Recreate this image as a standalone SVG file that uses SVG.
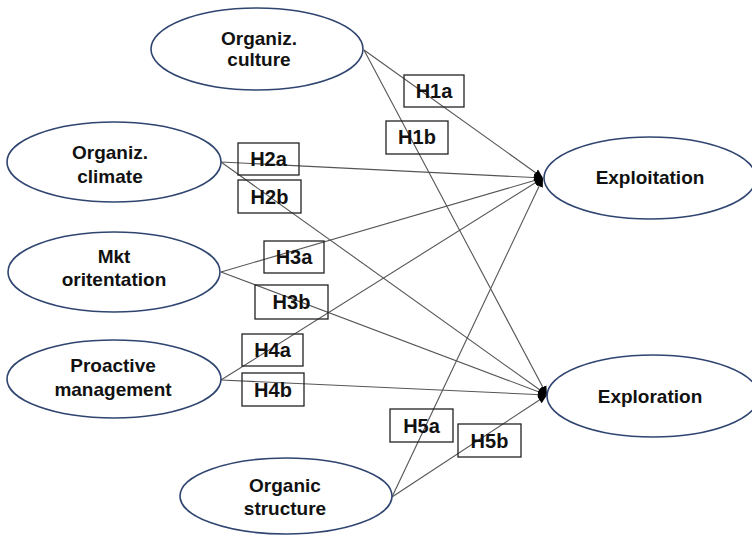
<svg xmlns="http://www.w3.org/2000/svg" width="752" height="536" viewBox="0 0 752 536">
<style>
.node ellipse{fill:#fff;stroke:#2f4570;stroke-width:1.6}
.node text{font-family:"Liberation Sans",Arial,sans-serif;font-weight:bold;font-size:19px;fill:#111;text-anchor:middle}
.conn line{stroke:#555;stroke-width:1.1}
.lbl rect{fill:none;stroke:#222;stroke-width:1.3}
.lbl text{font-family:"Liberation Sans",Arial,sans-serif;font-weight:bold;font-size:20px;fill:#111;text-anchor:middle}
</style>
<defs>
<marker id="arr" markerWidth="10" markerHeight="10" refX="9" refY="5" orient="auto" markerUnits="userSpaceOnUse">
<path d="M0,1 L9,5 L0,9 Z" fill="#000"/>
</marker>
</defs>
<rect width="752" height="536" fill="#fff"/>
<g id="connectors" class="conn">
<line x1="364" y1="50" x2="543" y2="178" marker-end="url(#arr)"/>
<line x1="364" y1="50" x2="547" y2="395" marker-end="url(#arr)"/>
<line x1="221" y1="162" x2="543" y2="178" marker-end="url(#arr)"/>
<line x1="221" y1="162" x2="547" y2="395" marker-end="url(#arr)"/>
<line x1="221" y1="272" x2="543" y2="178" marker-end="url(#arr)"/>
<line x1="221" y1="272" x2="547" y2="395" marker-end="url(#arr)"/>
<line x1="221" y1="380" x2="543" y2="178" marker-end="url(#arr)"/>
<line x1="221" y1="380" x2="547" y2="395" marker-end="url(#arr)"/>
<line x1="392" y1="497" x2="543" y2="178" marker-end="url(#arr)"/>
<line x1="392" y1="497" x2="547" y2="395" marker-end="url(#arr)"/>
</g>
<g id="labels" class="lbl">
<g id="H1a"><rect x="404" y="75" width="60" height="32"/><text x="434" y="98">H1a</text></g>
<g id="H1b"><rect x="386" y="121" width="62" height="33"/><text x="417" y="144">H1b</text></g>
<g id="H2a"><rect x="238" y="143" width="61" height="32"/><text x="268.5" y="166">H2a</text></g>
<g id="H2b"><rect x="238" y="180" width="63" height="33"/><text x="269.5" y="204">H2b</text></g>
<g id="H3a"><rect x="264" y="241" width="60" height="32"/><text x="294" y="264">H3a</text></g>
<g id="H3b"><rect x="255" y="285" width="73" height="34"/><text x="291.5" y="309">H3b</text></g>
<g id="H4a"><rect x="242" y="334" width="61" height="32"/><text x="272.5" y="357">H4a</text></g>
<g id="H4b"><rect x="242" y="373" width="62" height="33"/><text x="273" y="397">H4b</text></g>
<g id="H5a"><rect x="390" y="409" width="63" height="33"/><text x="421.5" y="433">H5a</text></g>
<g id="H5b"><rect x="458" y="424" width="63" height="33"/><text x="489.5" y="448">H5b</text></g>
</g>
<g id="culture" class="node"><ellipse cx="257" cy="49" rx="106" ry="41"/><text x="259" y="45">Organiz.</text><text x="259" y="66">culture</text></g>
<g id="climate" class="node"><ellipse cx="114" cy="162" rx="107" ry="40"/><text x="110" y="159">Organiz.</text><text x="110" y="183">climate</text></g>
<g id="mkt" class="node"><ellipse cx="114" cy="272" rx="106" ry="40"/><text x="114" y="263">Mkt</text><text x="114" y="286">oritentation</text></g>
<g id="proactive" class="node"><ellipse cx="114" cy="379" rx="107" ry="39"/><text x="113" y="372">Proactive</text><text x="113" y="396">management</text></g>
<g id="organic" class="node"><ellipse cx="286" cy="496" rx="106" ry="38"/><text x="285" y="492">Organic</text><text x="285" y="515">structure</text></g>
<g id="exploitation" class="node"><ellipse cx="650" cy="178" rx="106" ry="41"/><text x="650" y="184">Exploitation</text></g>
<g id="exploration" class="node"><ellipse cx="653" cy="396" rx="106" ry="41"/><text x="650" y="403">Exploration</text></g>
</svg>
